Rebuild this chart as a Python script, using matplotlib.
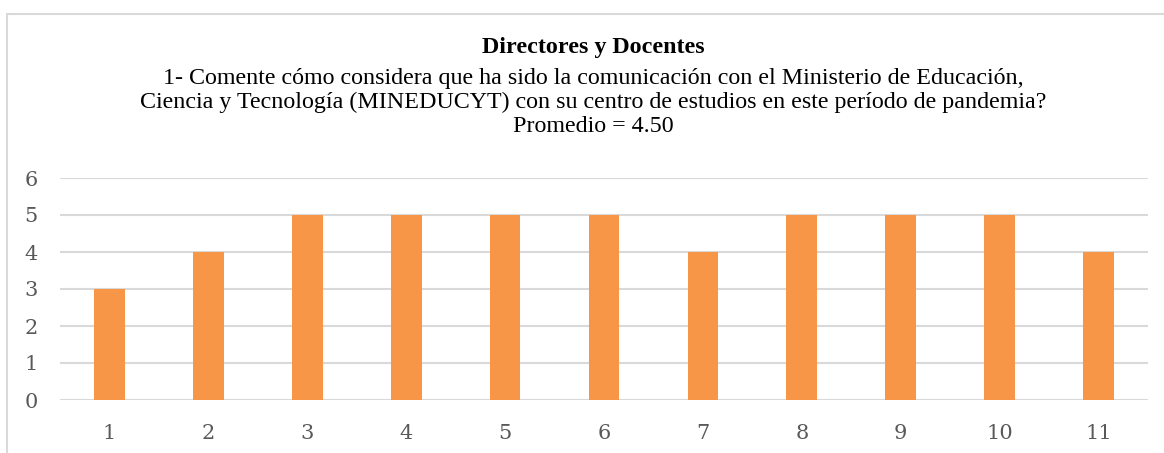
import matplotlib
matplotlib.use("Agg")
import matplotlib.pyplot as plt
from matplotlib.patches import Rectangle

# datos
categorias = ["1", "2", "3", "4", "5", "6", "7", "8", "9", "10", "11"]
valores = [3, 4, 5, 5, 5, 5, 4, 5, 5, 5, 4]
titulo = "Directores y Docentes"
subtitulo = ("1- Comente cómo considera que ha sido la comunicación con el Ministerio de Educación,\n"
             "Ciencia y Tecnología (MINEDUCYT) con su centro de estudios en este período de pandemia?\n"
             "Promedio = 4.50")

W, H = 1164, 453
fig = plt.figure(figsize=(W / 100, H / 100), dpi=100)

# borde del grafico
fig.patches.append(Rectangle((7 / W, -0.1), 1.2, (H - 14) / H + 0.1, transform=fig.transFigure,
                             fill=False, edgecolor="#d9d9d9", linewidth=1.5))

ax = fig.add_axes([60 / W, (H - 400) / H, (1148 - 60) / W, (400 - 178) / H])
x = list(range(len(categorias)))
ax.bar(x, valores, width=0.31, color="#f79646", zorder=3)
ax.set_xlim(-0.5, len(categorias) - 0.5)
ax.set_ylim(0, 6)
ax.set_yticks(range(0, 7))
ax.set_xticks(x)
ax.set_xticklabels(categorias)
ax.grid(axis="y", color="#d9d9d9", linewidth=1.5, zorder=0)
for s in ax.spines.values():
    s.set_visible(False)
ax.tick_params(length=0, labelsize=15, labelcolor="#595959")
ax.tick_params(axis="x", pad=17)
ax.tick_params(axis="y", pad=16)
for lab in ax.get_xticklabels() + ax.get_yticklabels():
    lab.set_fontfamily("DejaVu Serif")

fig.text(593 / W, 1 - 47 / H, titulo, ha="center", va="center", fontsize=17.3,
         fontweight="bold", family="Liberation Serif")
fig.text(593 / W, 1 - 102.5 / H, subtitulo, ha="center", va="center", fontsize=17.3,
         family="Liberation Serif", linespacing=1.2)

fig.savefig("out.png", dpi=100)
